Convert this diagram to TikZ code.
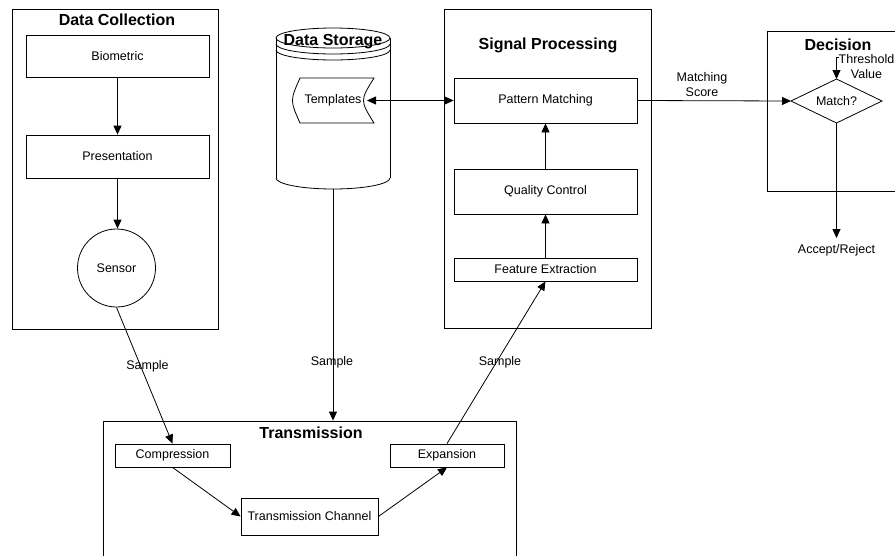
\documentclass[tikz,border=0pt]{standalone}
\usepackage{fontspec}
\setmainfont{Liberation Sans}
\usetikzlibrary{arrows.meta}
\begin{document}
\begin{tikzpicture}[x=1pt,y=-1pt,
  lw/.style={line width=0.8pt},
  box/.style={draw, lw, inner sep=0pt, font=\fontsize{12.5}{15}\selectfont},
  group/.style={draw, lw, inner sep=0pt},
  title/.style={font=\fontsize{16}{19}\selectfont\bfseries, inner sep=0pt},
  lbl/.style={font=\fontsize{12.5}{15}\selectfont, inner sep=0pt, align=center},
  arr/.style={lw, -{Triangle[length=9pt,width=8pt]}},
  darr/.style={lw, {Triangle[length=9pt,width=8pt]}-{Triangle[length=9pt,width=8pt]}}
]
\useasboundingbox (0,0) rectangle (895,555);

% ---------- containers ----------
\node[group, minimum width=206, minimum height=320] (dc) at (115,169) {};
\node[title] (dctitle) at (117,20) {Data Collection};

\node[group, minimum width=207, minimum height=319] (sp) at (547.5,168.5) {};
\node[title] (sptitle) at (548,45) {Signal Processing};

\node[group, minimum width=143, minimum height=160] (dec) at (838.5,111) {};
\node[title] (dectitle) at (838,45) {Decision};

\node[group, minimum width=413, minimum height=158] (tr) at (309.5,500) {};
\node[title] (trtitle) at (311,433) {Transmission};

% ---------- data storage cylinder ----------
\draw[lw] (333,38) ellipse [x radius=57pt, y radius=10pt];
\draw[lw] (276,38) -- (276,178);
\draw[lw] (390,38) -- (390,178);
\draw[lw] (276,44) .. controls (276,49.5) and (301.5,54) .. (333,54)
                   .. controls (364.5,54) and (390,49.5) .. (390,44);
\draw[lw] (276,50) .. controls (276,55.5) and (301.5,60) .. (333,60)
                   .. controls (364.5,60) and (390,55.5) .. (390,50);
\draw[lw] (276,178) .. controls (276,184) and (301.5,189) .. (333,189)
                    .. controls (364.5,189) and (390,184) .. (390,178);
\coordinate (dsbot) at (333,189);
\node[title] (dstitle) at (333,42) {Data Storage};

% templates (stored data shape)
\node[lbl, minimum width=79, minimum height=45] (tpl) at (333,100.5) {Templates};
\draw[lw] (300,78) -- (374,78) .. controls (360,100.5) .. (374,123)
          -- (300,123) .. controls (290,100.5) .. (300,78) -- cycle;
\coordinate (tplR) at (367,100.5);

% ---------- data collection ----------
\node[box, minimum width=183, minimum height=42] (bio) at (117.5,56) {Biometric};
\node[box, minimum width=183, minimum height=43] (pres) at (117.5,156.5) {Presentation};
\node[box, circle, minimum size=78] (sensor) at (116.5,268) {Sensor};

% ---------- signal processing ----------
\node[box, minimum width=183, minimum height=45] (pm) at (545.5,100.5) {Pattern Matching};
\node[box, minimum width=183, minimum height=45] (qc) at (545.5,191.5) {Quality Control};
\node[box, minimum width=183, minimum height=23] (fe) at (545.5,269.5) {Feature Extraction};

% ---------- transmission ----------
\node[box, minimum width=115, minimum height=23] (comp) at (172.5,455.5) {Compression};
\node[box, minimum width=114, minimum height=23] (exp) at (447,455.5) {Expansion};
\node[box, minimum width=137, minimum height=37] (chan) at (309.5,516.5) {Transmission Channel};

% ---------- decision ----------
\node[lbl] (match) at (836.5,101) {Match?};
\coordinate (dL) at (791,101);
\coordinate (dT) at (836.5,79);
\coordinate (dR) at (882,101);
\coordinate (dB) at (836.5,123);
\draw[lw] (dL) -- (dT) -- (dR) -- (dB) -- cycle;
\coordinate (thr) at (836.5,57);
\coordinate (acc) at (836.5,238);

% ---------- connectors ----------
\draw[arr] (bio) -- (pres);
\draw[arr] (pres.south) -- (pres.south |- sensor.north);
\draw[arr] (sensor.south) -- (comp.north);
\draw[arr] (dsbot) -- (dsbot |- tr.north);
\draw[arr] (comp.south) -- (chan.west);
\draw[arr] (chan.east) -- (exp.south);
\draw[arr] (exp.north) -- (fe.south);
\draw[arr] (fe) -- (qc);
\draw[arr] (qc) -- (pm);
\draw[darr] (tplR) -- (pm.west);
\draw[arr] (pm.east) -- (dL);
\draw[lw] (thr) -- ++(2,0);
\draw[arr] (thr) -- (dT);
\draw[arr] (dB) -- (acc);

% ---------- labels ----------
\node[lbl] (s1) at (147.5,366) {Sample};
\node[lbl] (s2) at (332,362) {Sample};
\node[lbl] (s3) at (500,362) {Sample};
\node[lbl] (ms) at (702,85) {Matching\\Score};
\node[lbl] (tv) at (866.5,67) {Threshold\\Value};
\node[lbl] (ar) at (836.5,250) {Accept/Reject};
\end{tikzpicture}
\end{document}
